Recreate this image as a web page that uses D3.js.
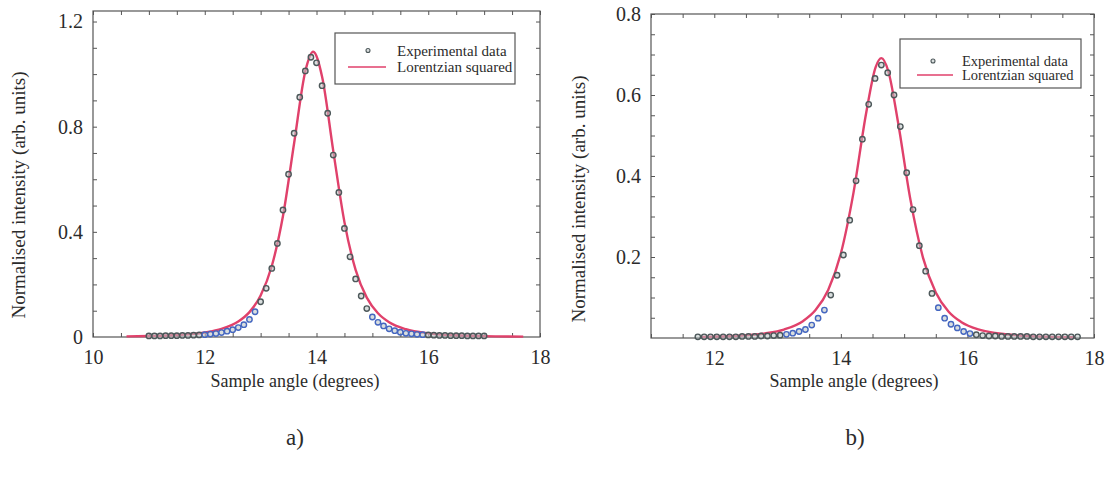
<!DOCTYPE html>
<html>
<head>
<meta charset="utf-8">
<script src="https://cdn.jsdelivr.net/npm/d3@7"></script>
<style>
  html, body { margin: 0; padding: 0; background: #ffffff; }
  svg { display: block; }
</style>
</head>
<body>
<svg id="chart" width="1113" height="480"></svg>
<script>
// ---------- Panel a) data ----------
const angleA = [11.0,11.1,11.2,11.3,11.4,11.5,11.6,11.7,11.8,11.9,
  12.0,12.1,12.2,12.3,12.4,12.5,12.6,12.7,12.8,12.9,
  13.0,13.1,13.2,13.3,13.4,13.5,13.6,13.7,13.8,13.9,
  14.0,14.1,14.2,14.3,14.4,14.5,14.6,14.7,14.8,14.9,
  15.0,15.1,15.2,15.3,15.4,15.5,15.6,15.7,15.8,15.9,
  16.0,16.1,16.2,16.3,16.4,16.5,16.6,16.7,16.8,16.9,17.0];
const expA = [0.004,0.004,0.004,0.005,0.005,0.005,0.006,0.006,0.007,0.008,
  0.009,0.011,0.013,0.017,0.022,0.028,0.036,0.047,0.067,0.096,
  0.134,0.185,0.261,0.356,0.483,0.619,0.775,0.912,1.012,1.064,
  1.043,0.956,0.851,0.692,0.550,0.413,0.305,0.221,0.156,0.108,
  0.076,0.056,0.042,0.031,0.024,0.018,0.014,0.012,0.010,0.009,
  0.008,0.007,0.006,0.006,0.005,0.005,0.005,0.004,0.004,0.004,0.004];
const fitAngleA = [10.6,11.0,11.5,12.0,12.3,12.6,12.8,13.0,13.2,13.4,13.6,13.8,13.94,
  14.1,14.3,14.5,14.7,14.9,15.1,15.3,15.6,16.0,16.5,17.0,17.7];
const fitA = [0.0024,0.0038,0.0076,0.0173,0.0308,0.0588,0.0946,0.158,0.270,0.460,0.738,1.011,1.085,
  0.990,0.708,0.437,0.2556,0.1497,0.0901,0.0561,0.0296,0.0140,0.0064,0.0033,0.0015];
const xTicksA = ["10","12","14","16","18"];
const yTicksA = ["0","0.4","0.8","1.2"];

// ---------- Panel b) data ----------
const angleB = [11.74,11.84,11.94,12.04,12.14,12.24,12.34,12.44,12.54,12.64,
  12.74,12.84,12.94,13.04,13.14,13.24,13.34,13.44,13.54,13.64,
  13.74,13.84,13.94,14.04,14.14,14.24,14.34,14.44,14.54,14.64,
  14.74,14.84,14.94,15.04,15.14,15.24,15.34,15.44,15.54,15.64,
  15.74,15.84,15.94,16.04,16.14,16.24,16.34,16.44,16.54,16.64,
  16.74,16.84,16.94,17.04,17.14,17.24,17.34,17.44,17.54,17.64,17.74];
const expB = [0.003,0.003,0.003,0.003,0.003,0.003,0.003,0.004,0.004,0.004,
  0.005,0.005,0.006,0.007,0.009,0.012,0.016,0.021,0.032,0.049,
  0.069,0.106,0.155,0.205,0.291,0.388,0.491,0.577,0.641,0.674,
  0.655,0.600,0.522,0.408,0.317,0.228,0.165,0.110,0.075,0.049,
  0.034,0.025,0.016,0.011,0.008,0.006,0.005,0.005,0.004,0.004,
  0.004,0.004,0.004,0.003,0.003,0.003,0.003,0.003,0.003,0.003,0.003];
const fitAngleB = [11.8,12.3,12.8,13.1,13.4,13.6,13.8,14.0,14.2,14.4,14.55,14.64,
  14.75,14.9,15.1,15.3,15.5,15.7,15.9,16.2,16.6,17.1,17.7];
const fitB = [0.0024,0.0048,0.0114,0.0209,0.0416,0.069,0.1188,0.2088,0.359,0.5556,0.669,0.691,
  0.6587,0.536,0.341,0.1973,0.1124,0.0655,0.0396,0.0201,0.0092,0.0040,0.0018];
const xTicksB = ["12","14","16","18"];
const yTicksB = ["0.2","0.4","0.6","0.8"];

const legendLabels = ["Experimental data", "Lorentzian squared"];
const xTitle = "Sample angle (degrees)";
const yTitle = "Normalised intensity (arb. units)";
const panelLabels = ["a)", "b)"];

// ---------- Panel configuration (layout/style only) ----------
const panels = [
  { angle: angleA, exp: expA, fitX: fitAngleA, fit: fitA,
    xLabels: xTicksA, yLabels: yTicksA,
    xDom: [10, 18], yDom: [0, 1.24],
    left: 93, right: 540, top: 11, bottom: 337,
    xMinorStep: 0.5, yMinorStep: 0.1,
    xTitleX: 295, yTitleX: 18, yTitleY: 195, tag: panelLabels[0], tagX: 295,
    legend: { x0: 335, x1: 515, y0: 33, y1: 84, markX: 368, lineX0: 348, lineX1: 386, textX: 397, row1: 50.5, row2: 67, fs: 15 } },
  { angle: angleB, exp: expB, fitX: fitAngleB, fit: fitB,
    xLabels: xTicksB, yLabels: yTicksB,
    xDom: [11, 18], yDom: [0, 0.8],
    left: 651, right: 1094, top: 14, bottom: 338,
    xMinorStep: 0.5, yMinorStep: 0.05,
    xTitleX: 854, yTitleX: 578, yTitleY: 199, tag: panelLabels[1], tagX: 855,
    legend: { x0: 900, x1: 1081, y0: 39, y1: 88, markX: 933, lineX0: 917, lineX1: 953, textX: 962, row1: 61, row2: 75, fs: 14.5 } }
];

const svg = d3.select("#chart");
const serif = "'Liberation Serif', serif";
const textColor = "#2b2b2b";
const frameColor = "#555555";
const fitColor = "#e0416b";

panels.forEach(p => {
  const x = d3.scaleLinear().domain(p.xDom).range([p.left, p.right]);
  const y = d3.scaleLinear().domain(p.yDom).range([p.bottom, p.top]);
  const g = svg.append("g");

  const xMinor = d3.range(Math.ceil(p.xDom[0] / p.xMinorStep), Math.floor(p.xDom[1] / p.xMinorStep) + 1)
    .map(i => +(i * p.xMinorStep).toFixed(3));
  const yMinor = d3.range(1, Math.floor(p.yDom[1] / p.yMinorStep + 1e-6) + 1)
    .map(i => +(i * p.yMinorStep).toFixed(3));

  const tickStyle = sel => {
    sel.select(".domain").remove();
    sel.selectAll(".tick line").attr("stroke", frameColor).attr("stroke-width", 1);
  };
  g.append("g").attr("transform", `translate(0,${p.bottom})`)
    .call(d3.axisBottom(x).tickValues(xMinor).tickSize(-4).tickFormat("")).call(tickStyle);
  g.append("g").attr("transform", `translate(0,${p.top})`)
    .call(d3.axisTop(x).tickValues(xMinor).tickSize(-4).tickFormat("")).call(tickStyle);
  g.append("g").attr("transform", `translate(${p.left},0)`)
    .call(d3.axisLeft(y).tickValues(yMinor).tickSize(-4).tickFormat("")).call(tickStyle);
  g.append("g").attr("transform", `translate(${p.right},0)`)
    .call(d3.axisRight(y).tickValues(yMinor).tickSize(-4).tickFormat("")).call(tickStyle);

  const xLab = g.append("g").attr("transform", `translate(0,${p.bottom})`)
    .call(d3.axisBottom(x).tickValues(p.xLabels.map(Number)).tickSize(0).tickPadding(13)
      .tickFormat((d, i) => p.xLabels[i]));
  xLab.attr("font-family", serif).attr("font-size", 20).select(".domain").remove();
  xLab.selectAll("text").attr("fill", textColor);

  const yLab = g.append("g").attr("transform", `translate(${p.left},0)`)
    .call(d3.axisLeft(y).tickValues(p.yLabels.map(Number)).tickSize(0).tickPadding(10)
      .tickFormat((d, i) => p.yLabels[i]));
  yLab.attr("font-family", serif).attr("font-size", 20).select(".domain").remove();
  yLab.selectAll("text").attr("fill", textColor);

  g.append("rect").attr("x", p.left).attr("y", p.top)
    .attr("width", p.right - p.left).attr("height", p.bottom - p.top)
    .attr("fill", "none").attr("stroke", frameColor).attr("stroke-width", 1.2);

  const fitData = p.fitX.map((v, i) => [v, p.fit[i]]);
  g.append("path").datum(fitData)
    .attr("fill", "none").attr("stroke", fitColor).attr("stroke-width", 2.4)
    .attr("d", d3.line().x(d => x(d[0])).y(d => y(d[1])).curve(d3.curveMonotoneX));

  const expData = p.angle.map((v, i) => [v, p.exp[i]]);
  g.append("g").selectAll("circle").data(expData).join("circle")
    .attr("cx", d => x(d[0])).attr("cy", d => y(d[1])).attr("r", 2.7)
    .attr("fill", "rgba(185,195,195,0.55)")
    .attr("stroke", d => (d[1] > 0.008 && d[1] < 0.1) ? "#4466c0" : "#4d585a")
    .attr("stroke-width", 1.4);

  const L = p.legend;
  g.append("rect").attr("x", L.x0).attr("y", L.y0).attr("width", L.x1 - L.x0).attr("height", L.y1 - L.y0)
    .attr("fill", "#ffffff").attr("stroke", frameColor).attr("stroke-width", 1.2);
  g.append("circle").attr("cx", L.markX).attr("cy", L.row1).attr("r", 2)
    .attr("fill", "rgba(185,195,195,0.55)").attr("stroke", "#4d585a").attr("stroke-width", 1.1);
  g.append("line").attr("x1", L.lineX0).attr("x2", L.lineX1).attr("y1", L.row2).attr("y2", L.row2)
    .attr("stroke", fitColor).attr("stroke-width", 1.6);
  [L.row1, L.row2].forEach((ry, i) => {
    g.append("text").attr("x", L.textX).attr("y", ry).attr("dy", "0.35em")
      .style("font-family", serif).attr("font-size", L.fs).attr("fill", textColor).text(legendLabels[i]);
  });

  g.append("text").attr("x", p.xTitleX).attr("y", 381).attr("dy", "0.35em")
    .style("font-family", serif).attr("text-anchor", "middle").attr("font-size", 18)
    .attr("fill", textColor).text(xTitle);
  g.append("text").attr("transform", `translate(${p.yTitleX},${p.yTitleY}) rotate(-90)`)
    .style("font-family", serif).attr("dy", "0.35em").attr("text-anchor", "middle").attr("font-size", 19)
    .attr("fill", textColor).text(yTitle);
  g.append("text").attr("x", p.tagX).attr("y", 437).attr("dy", "0.35em")
    .style("font-family", serif).attr("text-anchor", "middle").attr("font-size", 23)
    .attr("fill", textColor).text(p.tag);
});
</script>
</body>
</html>
